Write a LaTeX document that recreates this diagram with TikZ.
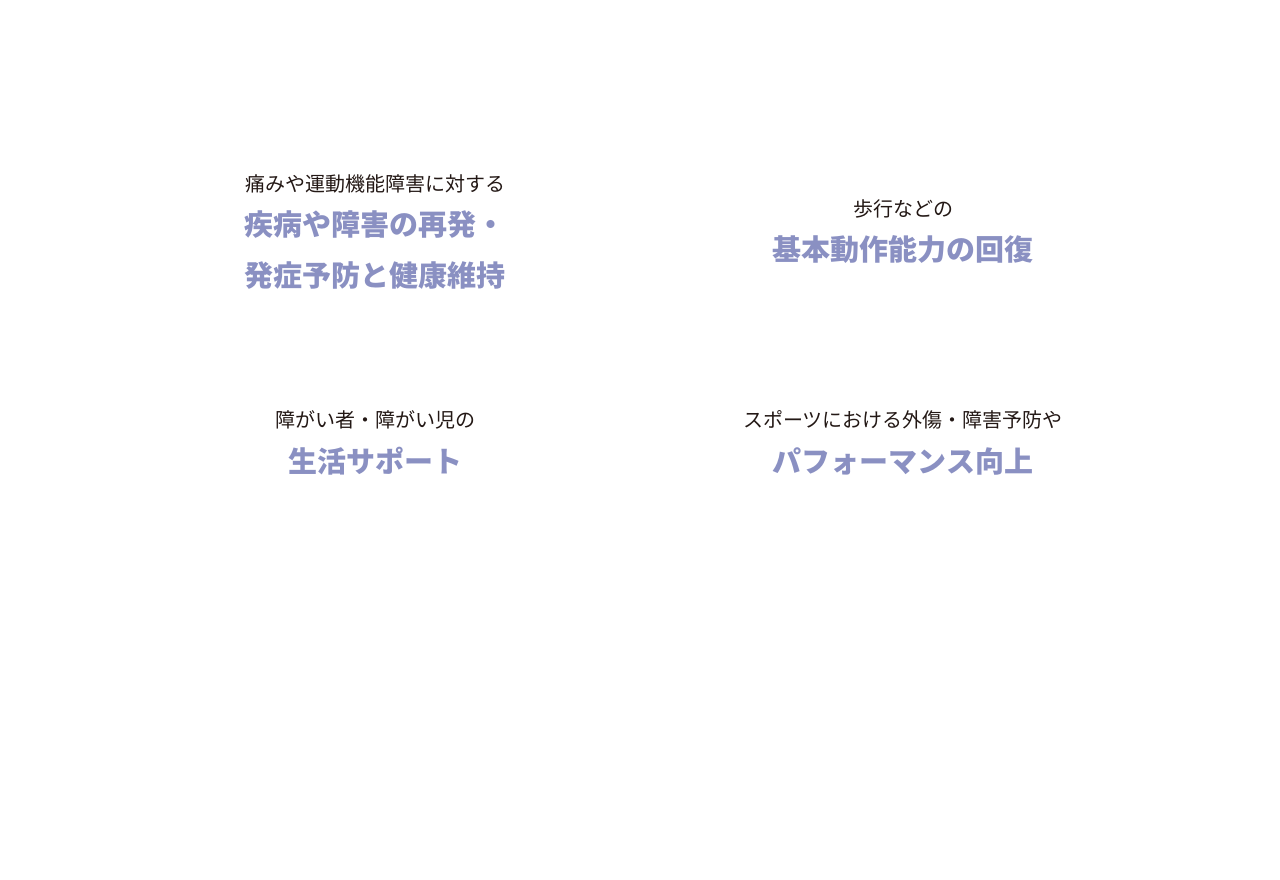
\documentclass[tikz,border=0pt]{standalone}
\usepackage{fontspec}
\setmainfont{Noto Sans CJK JP}
\definecolor{lav}{HTML}{8A90C2}
\definecolor{ink}{HTML}{231815}
\begin{document}
\begin{tikzpicture}[x=1pt,y=-1pt,
 small/.style={font=\fontsize{20}{24}\selectfont, text=ink, inner sep=0pt, anchor=center},
 big/.style={font=\fontsize{29}{51}\bfseries\selectfont, text=lav, inner sep=0pt, anchor=center, align=center}]
\useasboundingbox (0,0) rectangle (1280,880);
\node[small] (a1) at (375,184) {痛みや運動機能障害に対する};
\node[big] (a2) at (375,250.5) {疾病や障害の再発・\\発症予防と健康維持};
\node[small] (b1) at (903,209) {歩行などの};
\node[big] (b2) at (903,250) {基本動作能力の回復};
\node[small] (c1) at (375,420) {障がい者・障がい児の};
\node[big] (c2) at (375,461) {生活サポート};
\node[small] (d1) at (903,420) {スポーツにおける外傷・障害予防や};
\node[big] (d2) at (903,461) {パフォーマンス向上};
\end{tikzpicture}
\end{document}
